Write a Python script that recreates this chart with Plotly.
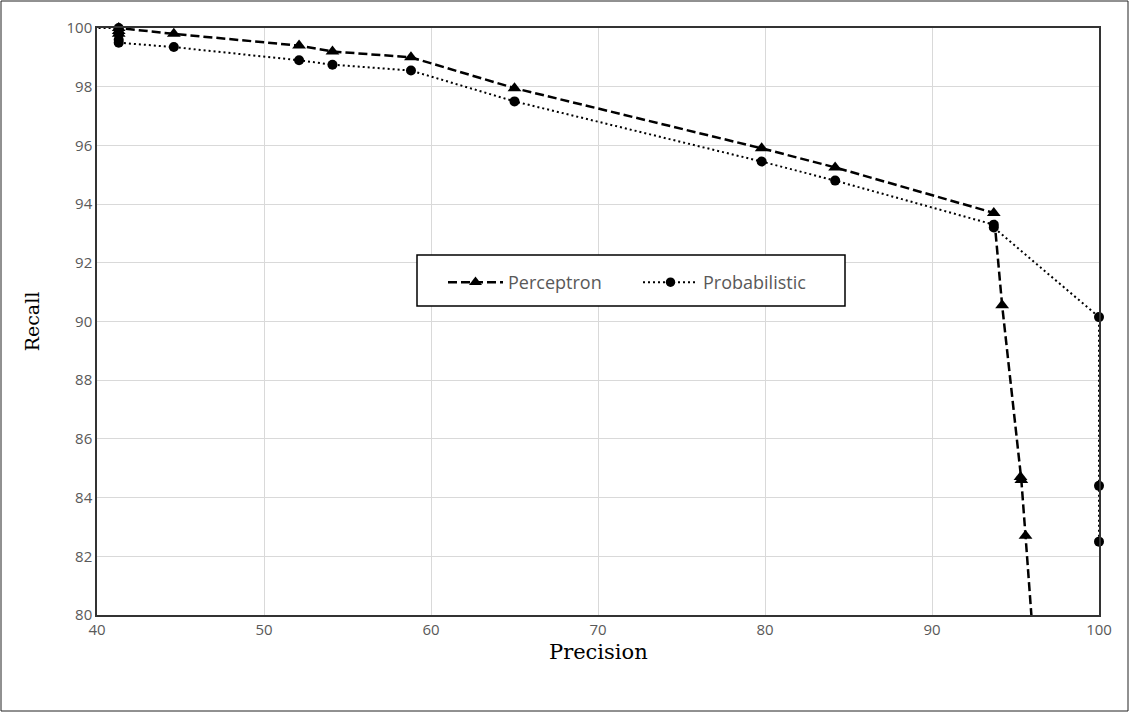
import plotly.graph_objects as go

# Data
perc_precision = [41.3, 41.3, 41.3, 44.6, 52.1, 54.1, 58.8, 65.0, 79.8, 84.2, 93.7, 94.2, 95.3, 95.35, 95.6, 96.6]
perc_recall    = [99.8, 99.9, 100.0, 99.8, 99.4, 99.2, 99.0, 97.95, 95.9, 95.25, 93.7, 90.55, 84.7, 84.6, 82.7, 75.0]

prob_precision = [38.0, 41.3, 41.3, 41.3, 41.3, 44.6, 52.1, 54.1, 58.8, 65.0, 79.8, 84.2, 93.7, 93.7, 100.0, 100.0, 100.0]
prob_recall    = [100.0, 100.0, 99.8, 99.6, 99.5, 99.35, 98.9, 98.75, 98.55, 97.5, 95.45, 94.8, 93.3, 93.2, 90.15, 84.4, 82.5]

x_ticks = [40, 50, 60, 70, 80, 90, 100]
y_ticks = [80, 82, 84, 86, 88, 90, 92, 94, 96, 98, 100]

# points outside the axis range are drawn as line only (no marker)
def in_range(x, y):
    return 40 <= x <= 100 and 80 <= y <= 100

perc_sizes = [12 if in_range(x, y) else 0 for x, y in zip(perc_precision, perc_recall)]
prob_sizes = [10 if in_range(x, y) else 0 for x, y in zip(prob_precision, prob_recall)]

fig = go.Figure()
fig.add_trace(go.Scatter(
    x=perc_precision, y=perc_recall, name="Perceptron", mode="lines+markers",
    line=dict(color="black", width=2.5, dash="9px,4px"),
    marker=dict(symbol="triangle-up", size=perc_sizes, color="black", opacity=1, line=dict(width=0)),
    cliponaxis=False,
))
fig.add_trace(go.Scatter(
    x=prob_precision, y=prob_recall, name="Probabilistic", mode="lines+markers",
    line=dict(color="black", width=2, dash="2px,3px"),
    marker=dict(symbol="circle", size=prob_sizes, color="black", opacity=1, line=dict(width=0)),
    cliponaxis=False,
))

L, R, T, B = 97, 31, 28, 98
W, H = 1130, 713
pw, ph = W - L - R, H - T - B

def px_x(p):
    return (p - L) / pw

def px_y(p):
    return (H - B - p) / ph

tickfont = dict(family="'Open Sans', sans-serif", size=15, color="#595959")

fig.update_xaxes(range=[40, 100], tickvals=x_ticks, showgrid=True, gridcolor="#d9d9d9", gridwidth=1,
                 showline=True, linecolor="#333333", linewidth=1.5, mirror=True, zeroline=False,
                 ticks="", tickfont=tickfont)
fig.update_yaxes(range=[80, 100], tickvals=y_ticks, showgrid=True, gridcolor="#d9d9d9", gridwidth=1,
                 showline=True, linecolor="#333333", linewidth=1.5, mirror=True, zeroline=False,
                 ticks="", tickfont=tickfont,
                 title=dict(text="Recall", font=dict(family="'DejaVu Serif', serif", size=19, color="black"),
                            standoff=22))

fig.update_layout(
    width=W, height=H, autosize=False,
    margin=dict(l=L, r=R, t=T, b=B),
    plot_bgcolor="white", paper_bgcolor="white",
    showlegend=True,
    legend=dict(orientation="h", x=px_x(443), y=px_y(264), xanchor="left", yanchor="top",
                borderwidth=0, bgcolor="rgba(0,0,0,0)",
                font=dict(family="'Open Sans', sans-serif", size=18, color="#595959"),
                entrywidth=125, itemwidth=55, tracegroupgap=0),
    annotations=[dict(text="Precision", xref="paper", yref="paper", x=px_x(598), y=px_y(652),
                      xanchor="center", yanchor="middle", showarrow=False,
                      font=dict(family="'DejaVu Serif', serif", size=21, color="black"))],
    shapes=[
        dict(type="rect", xref="paper", yref="paper",
             x0=px_x(1), x1=px_x(W - 2), y0=px_y(H - 2), y1=px_y(1),
             line=dict(color="#222222", width=1), layer="below"),
        dict(type="rect", xref="paper", yref="paper",
             x0=px_x(417), x1=px_x(845), y0=px_y(306), y1=px_y(255),
             line=dict(color="black", width=1.5), fillcolor="white", layer="above"),
    ],
)

fig.write_html("out.html", config={"displayModeBar": False},
               post_script="document.body.style.margin='0';document.body.style.padding='0';")
